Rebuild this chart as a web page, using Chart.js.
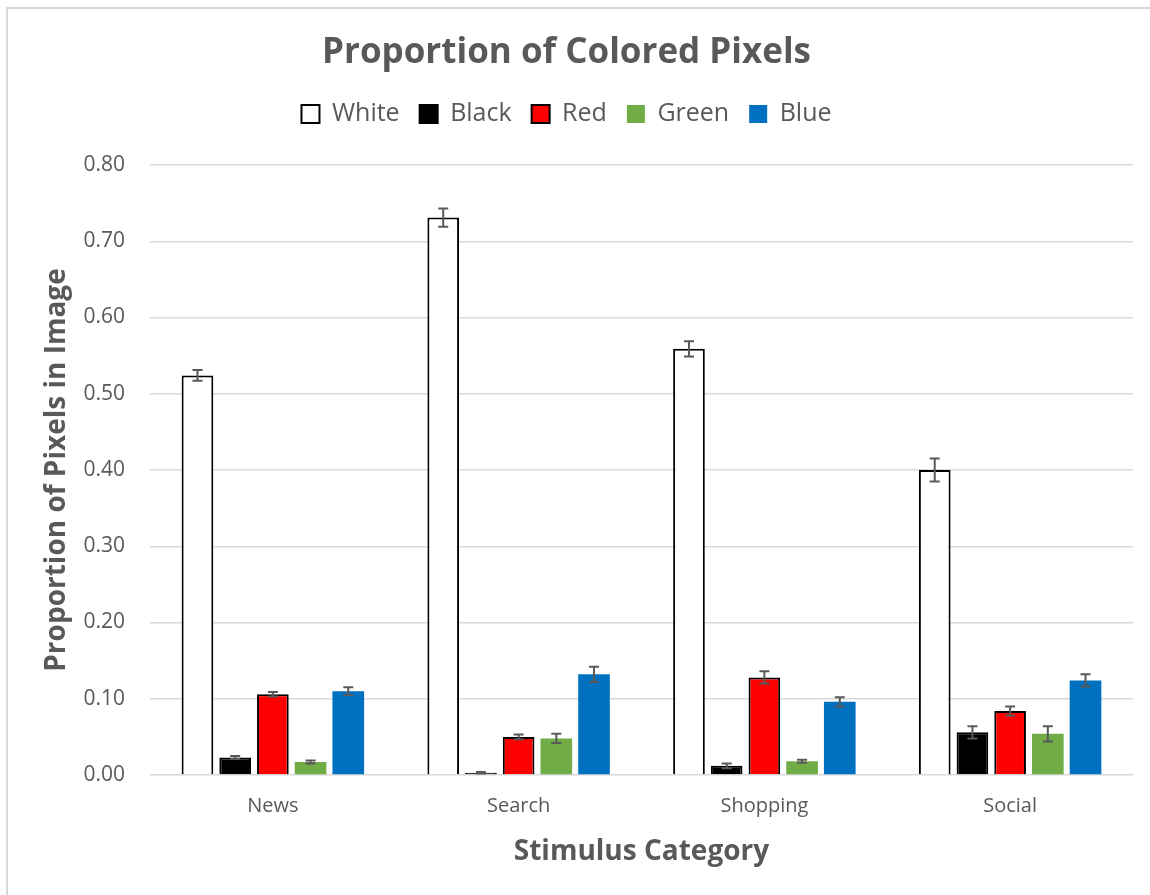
<!DOCTYPE html>
<html lang="en">
<head>
    <meta charset="UTF-8">
    <title>Proportion of Colored Pixels</title>
    <script src="https://cdn.jsdelivr.net/npm/chart.js"></script>
    <style>
        body { margin: 0; background: #fff; }
        .wrap { position: relative; width: 1150px; height: 895px; overflow: hidden; }
        .frame { position: absolute; left: 6px; top: 7px; width: 1200px; height: 1000px; border: 2px solid #d9d9d9; box-sizing: border-box; pointer-events: none; }
        canvas { position: absolute; left: 0; top: 0; }
    </style>
</head>
<body>
<div class="wrap">
    <canvas id="grafico" width="1150" height="895"></canvas>
    <div class="frame"></div>
</div>

<script>
    // dados
    const categorias = ['News', 'Search', 'Shopping', 'Social'];
    const white = [0.524, 0.731, 0.559, 0.400];
    const black = [0.023, 0.003, 0.012, 0.056];
    const red = [0.106, 0.050, 0.128, 0.084];
    const green = [0.017, 0.048, 0.018, 0.054];
    const blue = [0.110, 0.132, 0.096, 0.124];

    // erro (+/-)
    const whiteErr = [0.007, 0.012, 0.010, 0.015];
    const blackErr = [0.002, 0.001, 0.003, 0.008];
    const redErr = [0.003, 0.003, 0.008, 0.006];
    const greenErr = [0.002, 0.006, 0.002, 0.010];
    const blueErr = [0.005, 0.010, 0.006, 0.008];

    const cinza = '#595959';
    const fonte = '"Open Sans", "Noto Sans", sans-serif';

    function serie(label, valores, erros, cor, borda) {
        return {
            label: label,
            data: valores,
            erros: erros,
            backgroundColor: cor,
            borderColor: borda || cor,
            borderWidth: borda ? 2 : 0,
            categoryPercentage: 0.767,
            barPercentage: 0.84
        };
    }

    // desenha as barras de erro usando as escalas do grafico
    const barrasErro = {
        id: 'barrasErro',
        afterDatasetsDraw(chart) {
            const ctx = chart.ctx;
            const y = chart.scales.y;
            ctx.save();
            ctx.strokeStyle = cinza;
            ctx.lineWidth = 2;
            chart.data.datasets.forEach((ds, i) => {
                const meta = chart.getDatasetMeta(i);
                meta.data.forEach((bar, j) => {
                    const v = ds.data[j];
                    const e = ds.erros[j];
                    const yTop = y.getPixelForValue(v + e);
                    const yBot = y.getPixelForValue(v - e);
                    const x = bar.x;
                    ctx.beginPath();
                    ctx.moveTo(x, yTop); ctx.lineTo(x, yBot);
                    ctx.moveTo(x - 5, yTop); ctx.lineTo(x + 5, yTop);
                    ctx.moveTo(x - 5, yBot); ctx.lineTo(x + 5, yBot);
                    ctx.stroke();
                });
            });
            ctx.restore();
        }
    };

    // espaco extra abaixo da legenda
    const espacoLegenda = {
        id: 'espacoLegenda',
        beforeInit(chart) {
            const fitOriginal = chart.legend.fit;
            chart.legend.fit = function () {
                fitOriginal.bind(chart.legend)();
                this.height += 28.5;
            };
        }
    };

    const ctx = document.getElementById('grafico').getContext('2d');

    new Chart(ctx, {
        type: 'bar',
        data: {
            labels: categorias,
            datasets: [
                serie('White', white, whiteErr, '#ffffff', '#000000'),
                serie('Black', black, blackErr, '#000000', '#000000'),
                serie('Red', red, redErr, '#ff0000', '#000000'),
                serie('Green', green, greenErr, '#70ad47'),
                serie('Blue', blue, blueErr, '#0070c0')
            ]
        },
        options: {
            responsive: false,
            animation: false,
            layout: { padding: { left: 0, right: 17, top: 0, bottom: 0 } },
            plugins: {
                title: {
                    display: true,
                    text: 'Proportion of Colored Pixels',
                    color: cinza,
                    font: { family: fonte, size: 35, weight: 'bold' },
                    padding: { top: 32, bottom: 7.5 }
                },
                legend: {
                    labels: {
                        color: cinza,
                        font: { family: fonte, size: 25 },
                        boxWidth: 18,
                        boxHeight: 18,
                        padding: 20
                    }
                },
                tooltip: { enabled: false }
            },
            scales: {
                x: {
                    grid: { display: false, drawTicks: false },
                    border: { display: false },
                    ticks: { color: cinza, font: { family: fonte, size: 20 }, padding: 19 },
                    title: {
                        display: true,
                        text: 'Stimulus Category',
                        color: cinza,
                        font: { family: fonte, size: 28, weight: 'bold' },
                        padding: { top: 0, bottom: 26 }
                    },
                    afterFit(scale) { scale.height = 120; }
                },
                y: {
                    min: 0,
                    max: 0.8,
                    grid: { color: '#d9d9d9', lineWidth: 1.5, drawTicks: false },
                    border: { display: false },
                    ticks: {
                        stepSize: 0.1,
                        color: cinza,
                        font: { family: fonte, size: 21 },
                        padding: 25,
                        callback: v => v.toFixed(2)
                    },
                    title: {
                        display: true,
                        text: 'Proportion of Pixels in Image',
                        color: cinza,
                        font: { family: fonte, size: 28, weight: 'bold' },
                        padding: { top: 40, bottom: 0 }
                    },
                    afterFit(scale) { scale.width = 150; }
                }
            }
        },
        plugins: [barrasErro, espacoLegenda]
    });
</script>
</body>
</html>
